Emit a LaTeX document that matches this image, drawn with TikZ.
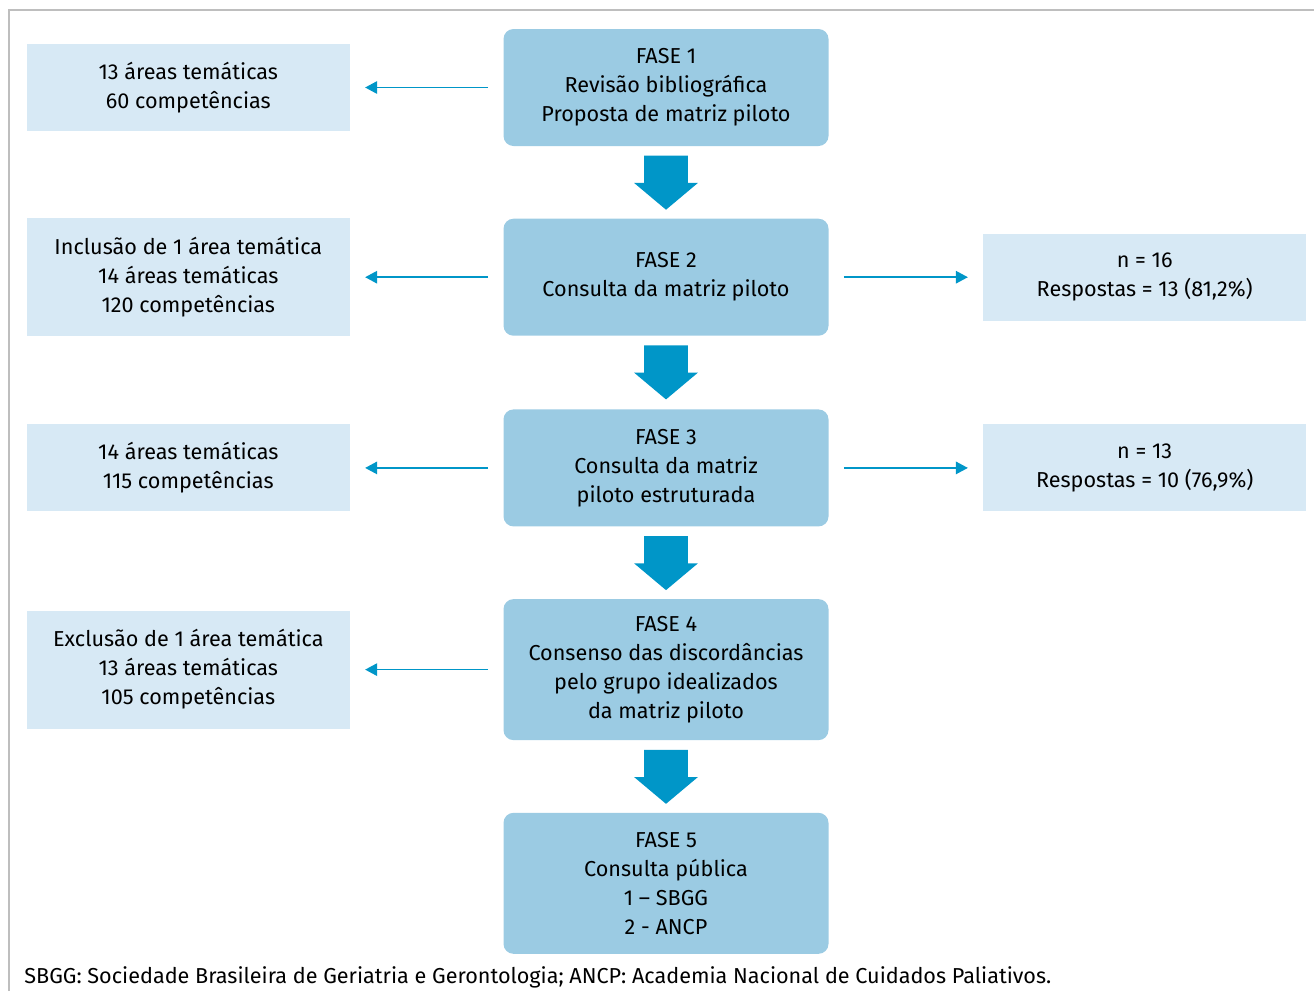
\documentclass[tikz,border=0pt]{standalone}
\usepackage{fontspec}
\setmainfont{Fira Sans}
\usepackage{tikz}
\usetikzlibrary{shapes,arrows.meta,positioning,calc}

\definecolor{fasecolor}{RGB}{155,203,227}
\definecolor{notecolor}{RGB}{215,233,245}
\definecolor{arrowcolor}{RGB}{0,150,200}
\definecolor{framecolor}{RGB}{190,190,190}

\begin{document}
\begin{tikzpicture}[
  font=\fontsize{12.3}{16.5}\selectfont,
  fase/.style={rectangle, fill=fasecolor, rounded corners=0.2cm, align=center,
    minimum width=6.5cm, minimum height=2.34cm, inner sep=0pt},
  note/.style={rectangle, fill=notecolor, align=center,
    minimum width=6.46cm, minimum height=1.74cm, inner sep=0pt},
  arrow/.style={-{Triangle[length=0.24cm,width=0.25cm]}, arrowcolor,
    line width=0.03cm, shorten <=0.3cm, shorten >=0.3cm},
  fatarrow/.style={single arrow, fill=arrowcolor, shape border rotate=270,
    minimum height=1.08cm, minimum width=1.26cm, single arrow head extend=0.2cm,
    single arrow tip angle=100, inner xsep=0.43cm, inner ysep=0pt, anchor=tail}]
  \useasboundingbox (0,0) rectangle (26.28,-19.82);
  \draw[framecolor, line width=0.04cm] (0.18,-19.82) -- (0.18,-0.2) -- (26.28,-0.2);

  % phases
  \node[fase] (f1) at (13.32,-1.75) {FASE 1\\Revisão bibliográfica\\Proposta de matriz piloto};
  \node[fase, below=1.44cm of f1] (f2) {FASE 2\\Consulta da matriz piloto};
  \node[fase, below=1.46cm of f2] (f3) {FASE 3\\Consulta da matriz\\piloto estruturada};
  \node[fase, below=1.44cm of f3, minimum height=2.82cm] (f4)
    {FASE 4\\Consenso das discordâncias\\pelo grupo idealizados\\da matriz piloto};
  \node[fase, below=1.44cm of f4, minimum height=2.82cm] (f5)
    {FASE 5\\Consulta pública\\1 – SBGG\\2 - ANCP};

  % results on the left
  \node[note, left=3.06cm of f1] (areas1) {13 áreas temáticas\\60 competências};
  \node[note, left=3.06cm of f2, minimum height=2.36cm] (areas2)
    {Inclusão de 1 área temática\\14 áreas temáticas\\120 competências};
  \node[note, left=3.06cm of f3] (areas3) {14 áreas temáticas\\115 competências};
  \node[note, left=3.06cm of f4, minimum height=2.36cm] (areas4)
    {Exclusão de 1 área temática\\13 áreas temáticas\\105 competências};

  % responses on the right
  \node[note, right=3.08cm of f2] (resp2) {n = 16\\Respostas = 13 (81,2\%)};
  \node[note, right=3.08cm of f3] (resp3) {n = 13\\Respostas = 10 (76,9\%)};

  % big arrows between phases
  \node[fatarrow] (a12) at ($(f1.south)+(0,-0.18)$) {};
  \node[fatarrow] (a23) at ($(f2.south)+(0,-0.18)$) {};
  \node[fatarrow] (a34) at ($(f3.south)+(0,-0.18)$) {};
  \node[fatarrow] (a45) at ($(f4.south)+(0,-0.18)$) {};

  \draw[arrow] (f1) -- (areas1);
  \draw[arrow] (f2) -- (areas2);
  \draw[arrow] (f3) -- (areas3);
  \draw[arrow] (f4) -- (areas4);
  \draw[arrow] (f2) -- (resp2);
  \draw[arrow] (f3) -- (resp3);

  \node[anchor=west, inner sep=0pt] (legenda) at (0.48,-19.54)
    {SBGG: Sociedade Brasileira de Geriatria e Gerontologia; ANCP: Academia Nacional de Cuidados Paliativos.};
\end{tikzpicture}
\end{document}
